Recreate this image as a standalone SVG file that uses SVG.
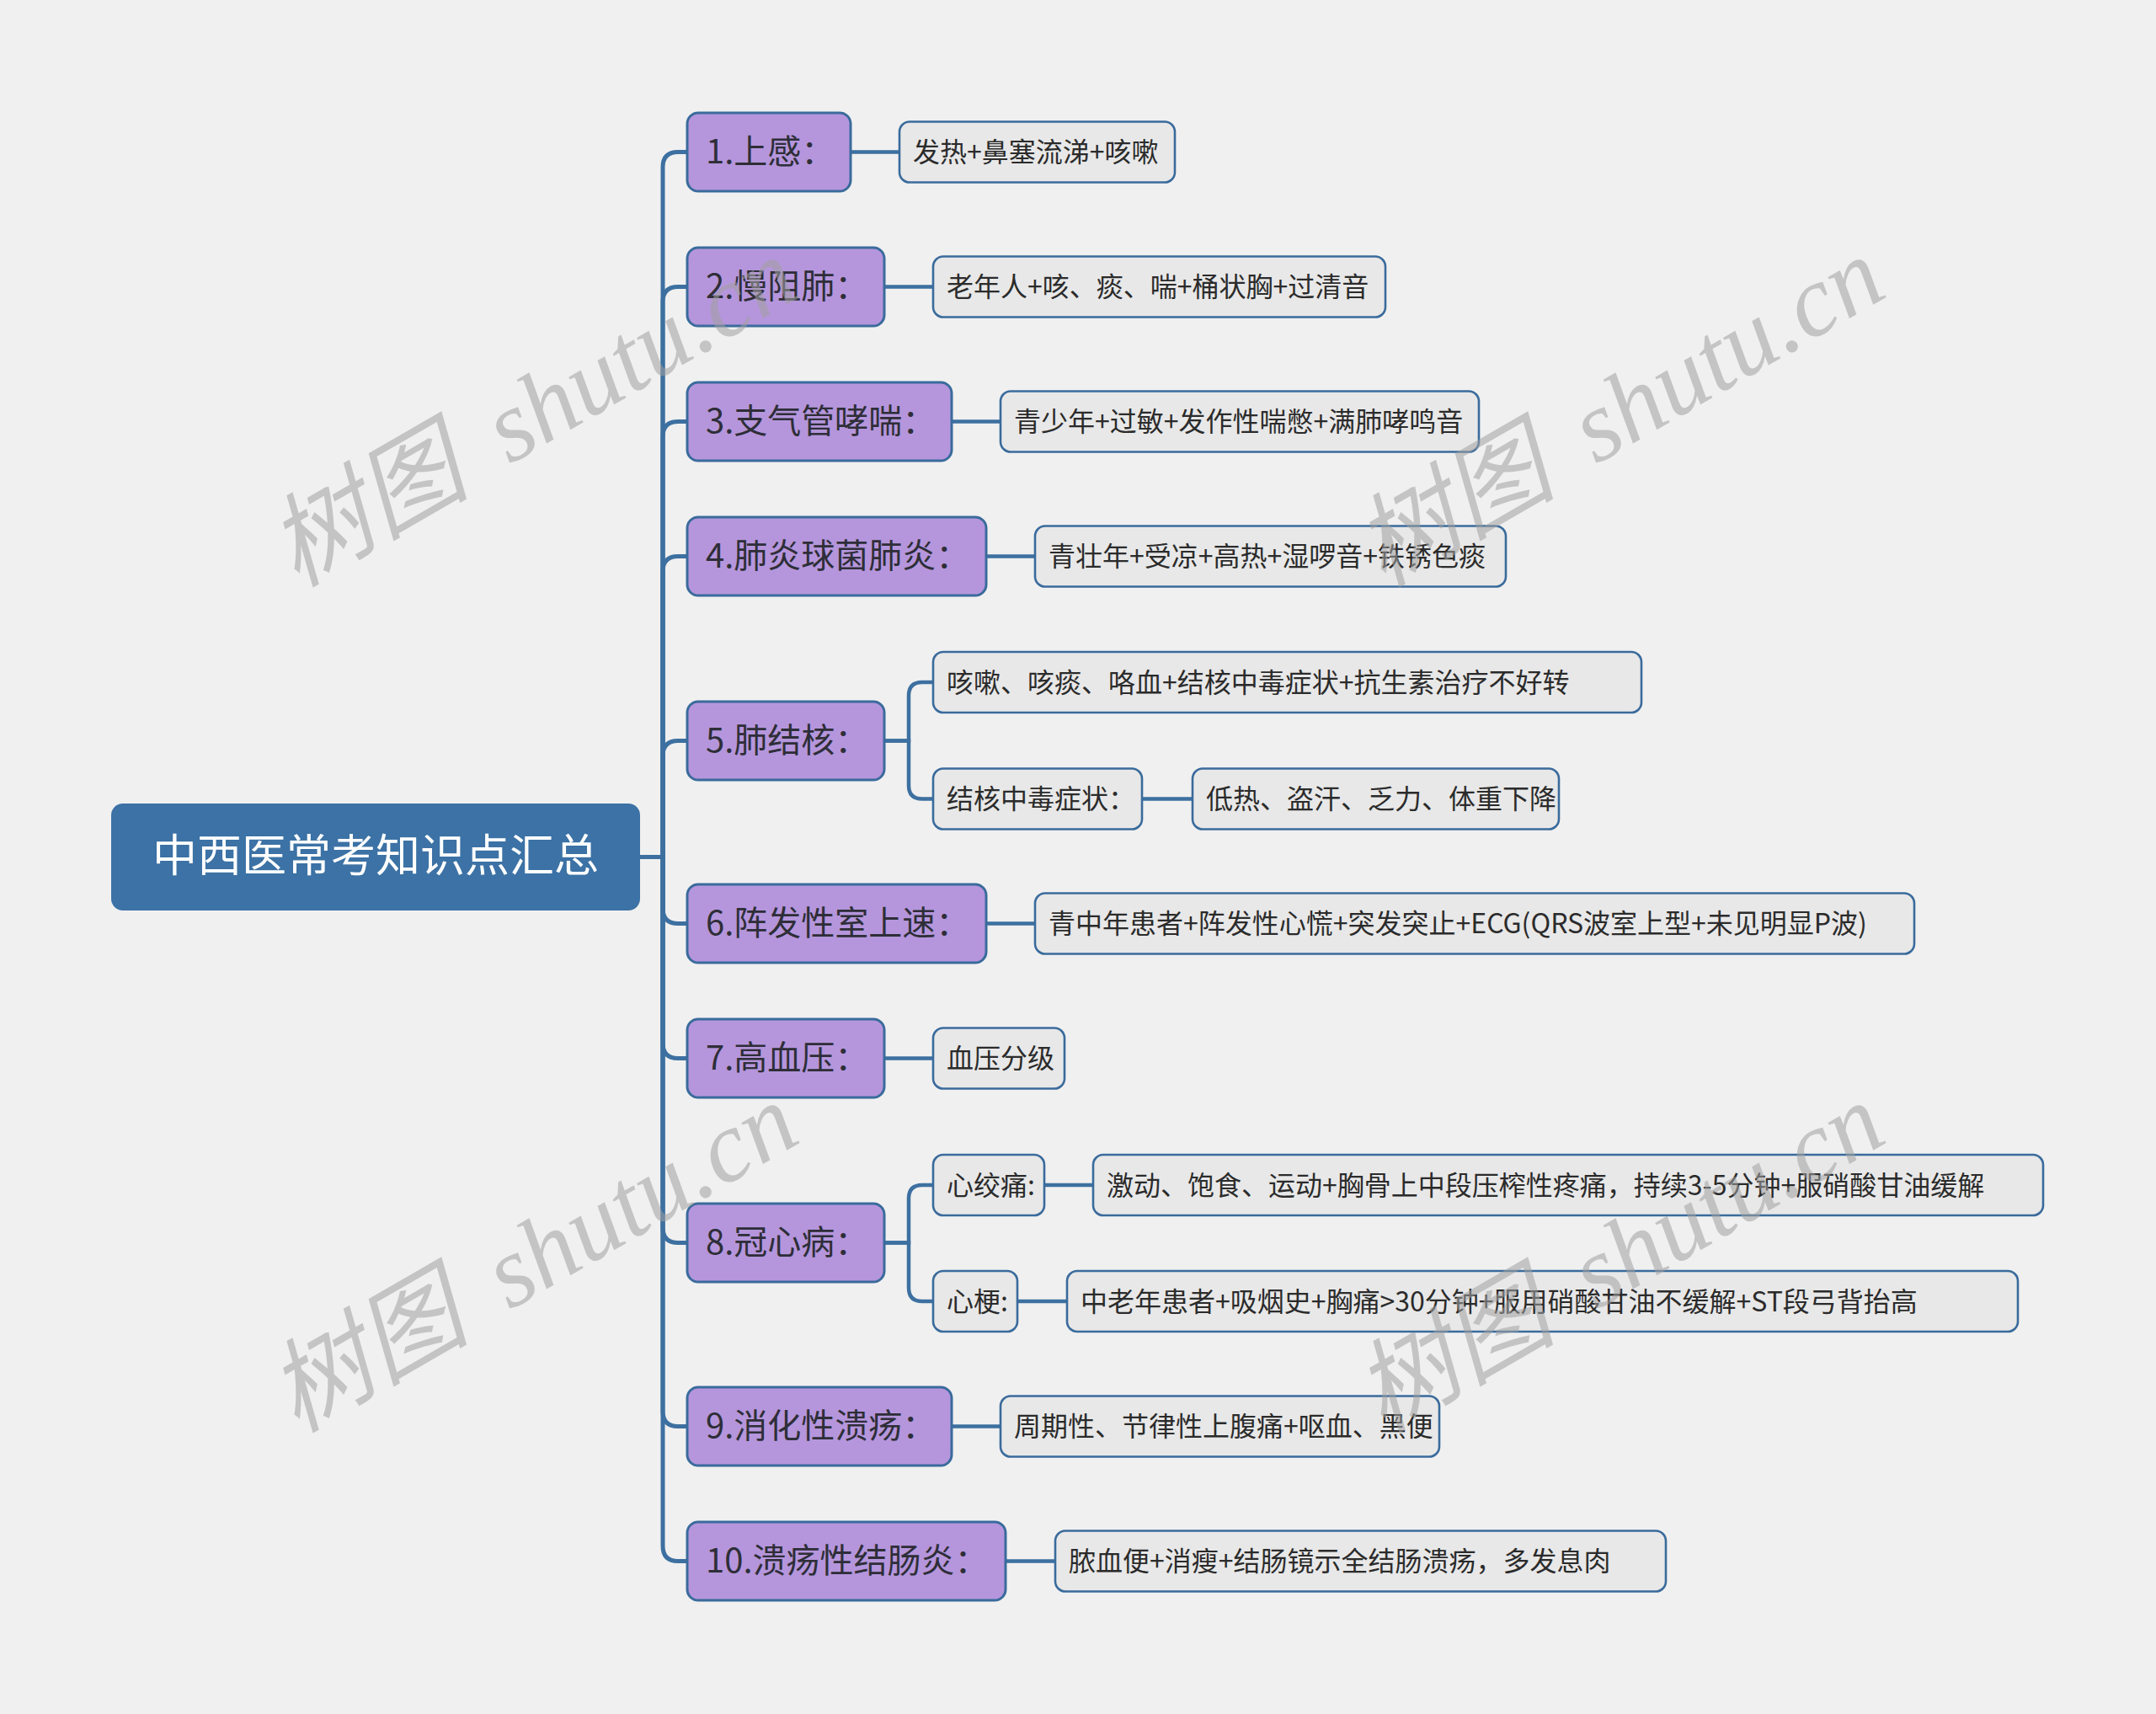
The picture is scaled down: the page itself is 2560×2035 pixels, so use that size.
<svg xmlns="http://www.w3.org/2000/svg" width="2560" height="2035" viewBox="0 0 2560 2035">
<defs>
<style>
.bg{fill:#f0f0f0}
.root rect{fill:#3c72a5}
.root text{fill:#ffffff;font-family:"Noto Sans CJK SC","Noto Sans",sans-serif;font-size:53px;text-anchor:middle}
.l1 rect{fill:#b596dc;stroke:#3a6b9c;stroke-width:3}
.l1 text{fill:#2e2e38;font-family:"Noto Sans CJK SC","Noto Sans",sans-serif;font-size:40px}
.l2 rect{fill:#e8e8e8;stroke:#3a6b9c;stroke-width:2.6}
.l2 text{fill:#2b2b2b;font-family:"Noto Sans CJK SC","Noto Sans",sans-serif;font-size:32px}
.conn path{fill:none;stroke:#3d70a0;stroke-width:5;stroke-linecap:butt}
.conn path.s{stroke-width:4.5}
.wm text{fill:#a0a0a0;fill-opacity:0.55;font-family:"Liberation Serif","Noto Sans CJK SC",serif;font-size:120px;font-style:italic;word-spacing:22px}
</style>
</defs>
<rect class="bg" x="0" y="0" width="2560" height="2035"/>

<g id="connectors" class="conn">
<path d="M760 1017.5 H787 V198.5 Q787 180.5 805 180.5 H816"/>
<path d="M760 1017.5 H787 V358.5 Q787 340.5 805 340.5 H816"/>
<path d="M760 1017.5 H787 V518.5 Q787 500.5 805 500.5 H816"/>
<path d="M760 1017.5 H787 V678.5 Q787 660.5 805 660.5 H816"/>
<path d="M760 1017.5 H787 V897.5 Q787 879.5 805 879.5 H816"/>
<path d="M760 1017.5 H787 V1078.5 Q787 1096.5 805 1096.5 H816"/>
<path d="M760 1017.5 H787 V1238.5 Q787 1256.5 805 1256.5 H816"/>
<path d="M760 1017.5 H787 V1457.5 Q787 1475.5 805 1475.5 H816"/>
<path d="M760 1017.5 H787 V1675.5 Q787 1693.5 805 1693.5 H816"/>
<path d="M760 1017.5 H787 V1835.5 Q787 1853.5 805 1853.5 H816"/>
<path class="s" d="M1010 180.5 H1068"/>
<path class="s" d="M1050 340.5 H1108"/>
<path class="s" d="M1130 500.5 H1188"/>
<path class="s" d="M1171 660.5 H1229"/>
<path class="s" d="M1050 879.5 H1079 V826 Q1079 810 1095 810 H1108"/>
<path class="s" d="M1050 879.5 H1079 V932.5 Q1079 948.5 1095 948.5 H1108"/>
<path class="s" d="M1356 948.5 H1416"/>
<path class="s" d="M1171 1096.5 H1229"/>
<path class="s" d="M1050 1256.5 H1108"/>
<path class="s" d="M1050 1475.5 H1079 V1423 Q1079 1407 1095 1407 H1108"/>
<path class="s" d="M1050 1475.5 H1079 V1529 Q1079 1545 1095 1545 H1108"/>
<path class="s" d="M1240 1407 H1298"/>
<path class="s" d="M1208 1545 H1267"/>
<path class="s" d="M1130 1693.5 H1188"/>
<path class="s" d="M1194 1853.5 H1253"/>
</g>

<g id="root" class="root">
<rect x="132" y="954" width="628" height="127" rx="14"/>
<text x="446" y="1035">中西医常考知识点汇总</text>
</g>

<g id="n1" class="l1"><rect x="816" y="134" width="194" height="93" rx="13"/><text x="838" y="194">1.上感：</text></g>
<g id="n2" class="l1"><rect x="816" y="294" width="234" height="93" rx="13"/><text x="838" y="354">2.慢阻肺：</text></g>
<g id="n3" class="l1"><rect x="816" y="454" width="314" height="93" rx="13"/><text x="838" y="514">3.支气管哮喘：</text></g>
<g id="n4" class="l1"><rect x="816" y="614" width="355" height="93" rx="13"/><text x="838" y="674">4.肺炎球菌肺炎：</text></g>
<g id="n5" class="l1"><rect x="816" y="833" width="234" height="93" rx="13"/><text x="838" y="893">5.肺结核：</text></g>
<g id="n6" class="l1"><rect x="816" y="1050" width="355" height="93" rx="13"/><text x="838" y="1110">6.阵发性室上速：</text></g>
<g id="n7" class="l1"><rect x="816" y="1210" width="234" height="93" rx="13"/><text x="838" y="1270">7.高血压：</text></g>
<g id="n8" class="l1"><rect x="816" y="1429" width="234" height="93" rx="13"/><text x="838" y="1489">8.冠心病：</text></g>
<g id="n9" class="l1"><rect x="816" y="1647" width="314" height="93" rx="13"/><text x="838" y="1707">9.消化性溃疡：</text></g>
<g id="n10" class="l1"><rect x="816" y="1807" width="378" height="93" rx="13"/><text x="838" y="1867">10.溃疡性结肠炎：</text></g>

<g id="n1a" class="l2"><rect x="1068" y="144.5" width="327" height="72" rx="12"/><text x="1084" y="192">发热+鼻塞流涕+咳嗽</text></g>
<g id="n2a" class="l2"><rect x="1108" y="304.5" width="537" height="72" rx="12"/><text x="1124" y="352">老年人+咳、痰、喘+桶状胸+过清音</text></g>
<g id="n3a" class="l2"><rect x="1188" y="464.5" width="568" height="72" rx="12"/><text x="1204" y="512">青少年+过敏+发作性喘憋+满肺哮鸣音</text></g>
<g id="n4a" class="l2"><rect x="1229" y="624.5" width="559" height="72" rx="12"/><text x="1245" y="672">青壮年+受凉+高热+湿啰音+铁锈色痰</text></g>
<g id="n5a" class="l2"><rect x="1108" y="774" width="841" height="72" rx="12"/><text x="1124" y="821.5">咳嗽、咳痰、咯血+结核中毒症状+抗生素治疗不好转</text></g>
<g id="n5b" class="l2"><rect x="1108" y="912.5" width="248" height="72" rx="12"/><text x="1124" y="960">结核中毒症状：</text></g>
<g id="n5c" class="l2"><rect x="1416" y="912.5" width="435" height="72" rx="12"/><text x="1432" y="960">低热、盗汗、乏力、体重下降</text></g>
<g id="n6a" class="l2"><rect x="1229" y="1060.5" width="1044" height="72" rx="12"/><text x="1245" y="1108">青中年患者+阵发性心慌+突发突止+ECG(QRS波室上型+未见明显P波)</text></g>
<g id="n7a" class="l2"><rect x="1108" y="1220.5" width="156" height="72" rx="12"/><text x="1124" y="1268">血压分级</text></g>
<g id="n8a" class="l2"><rect x="1108" y="1371" width="132" height="72" rx="12"/><text x="1124" y="1418.5">心绞痛:</text></g>
<g id="n8a1" class="l2"><rect x="1298" y="1371" width="1128" height="72" rx="12"/><text x="1314" y="1418.5">激动、饱食、运动+胸骨上中段压榨性疼痛，持续3-5分钟+服硝酸甘油缓解</text></g>
<g id="n8b" class="l2"><rect x="1108" y="1509" width="100" height="72" rx="12"/><text x="1124" y="1556.5">心梗:</text></g>
<g id="n8b1" class="l2"><rect x="1267" y="1509" width="1129" height="72" rx="12"/><text x="1283" y="1556.5">中老年患者+吸烟史+胸痛&gt;30分钟+服用硝酸甘油不缓解+ST段弓背抬高</text></g>
<g id="n9a" class="l2"><rect x="1188" y="1657.5" width="521" height="72" rx="12"/><text x="1204" y="1705">周期性、节律性上腹痛+呕血、黑便</text></g>
<g id="n10a" class="l2"><rect x="1253" y="1817.5" width="725" height="72" rx="12"/><text x="1269" y="1865">脓血便+消瘦+结肠镜示全结肠溃疡，多发息肉</text></g>

<g id="watermarks" class="wm">
<text transform="translate(352 698) rotate(-30)">树图 shutu.cn</text>
<text transform="translate(1642 698) rotate(-30)">树图 shutu.cn</text>
<text transform="translate(352 1702) rotate(-30)">树图 shutu.cn</text>
<text transform="translate(1642 1702) rotate(-30)">树图 shutu.cn</text>
</g>
</svg>
